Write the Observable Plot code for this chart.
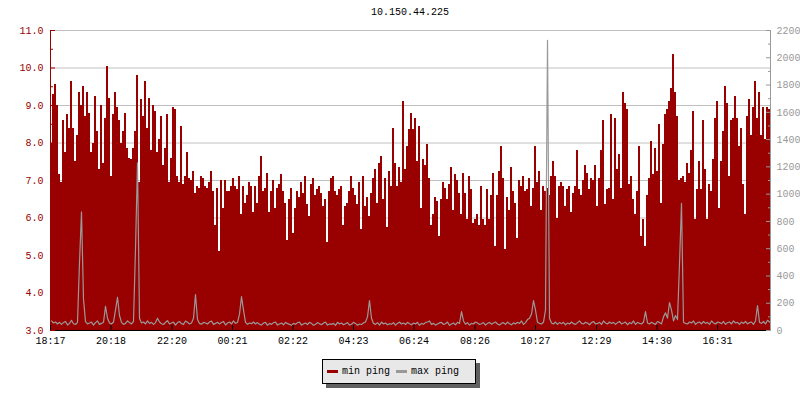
<!DOCTYPE html>
<html><head><meta charset="utf-8">
<script src="https://cdn.jsdelivr.net/npm/d3@7"></script>
<script src="https://cdn.jsdelivr.net/npm/@observablehq/plot@0.6"></script>
<style>
body{margin:0;background:#fff;}
#wrap{position:relative;width:800px;height:400px;font-family:"Liberation Mono",monospace;font-size:10px;color:#000;}
#chart{position:absolute;left:0;top:0;}
#title{position:absolute;left:0;width:820px;top:7px;line-height:12px;text-align:center;}
#legend{position:absolute;left:322px;top:359px;width:154px;height:25px;box-sizing:border-box;border:1px solid #000;background:#e8e8e8;box-shadow:4px 4px 0 #606060;display:flex;align-items:center;padding-left:4px;white-space:nowrap;}
.sw{display:inline-block;width:11px;height:3px;margin-right:4px;}
.lt{margin-right:6px;line-height:12px;}
</style></head>
<body>
<div id="wrap">
<div id="chart"></div>
<div id="title"></div>
<div id="legend"></div>
</div>
<script>
const chartTitle = "10.150.44.225";
const seriesNames = ["min ping", "max ping"];
const seriesColors = ["#990000", "#999999"];
const startLabel = "18:17";
const sampleMinutes = 4;
const spanMinutes = 1440;
const tickLabels = ["18:17","20:18","22:20","00:21","02:22","04:23","06:24","08:26","10:27","12:29","14:30","16:31"];
const leftTicks = [3,4,5,6,7,8,9,10,11];
const rightTicks = [0,200,400,600,800,1000,1200,1400,1600,1800,2000,2200];

const minPing = [
8.0,9.3,9.55,9.0,7.15,6.95,8.6,7.75,8.75,8.4,9.65,8.4,7.5,8.2,9.35,9.0,9.5,8.7,9.35,8.8,
7.75,8.0,9.25,8.3,7.3,9.0,7.45,8.65,10.05,9.2,7.1,8.75,9.35,8.95,8.6,8.0,8.3,8.8,7.85,7.6,
7.55,7.85,8.3,9.8,6.95,9.15,8.7,9.65,8.4,9.2,7.8,9.0,8.85,7.75,8.1,8.7,7.4,7.85,8.75,6.95,
7.6,8.95,8.9,7.1,6.95,8.45,6.9,7.1,7.75,7.05,7.0,7.25,6.65,6.85,6.8,7.1,7.05,6.85,6.8,6.95,
7.25,6.7,5.8,6.8,5.1,7.0,6.25,7.0,6.7,6.7,6.85,7.05,6.85,6.75,7.1,6.1,6.85,6.4,6.6,6.95,
6.85,6.15,6.85,6.4,7.1,7.65,6.7,6.8,7.2,6.15,6.7,7.0,6.25,6.8,6.9,7.15,6.7,6.4,5.4,6.5,
6.8,5.6,6.25,6.7,6.55,6.95,6.65,7.1,6.35,6.05,6.9,7.05,6.6,6.75,6.85,6.65,6.3,6.5,5.35,6.7,
7.05,7.1,6.7,6.6,6.75,6.85,5.8,6.3,6.4,6.7,7.1,6.8,6.6,6.35,6.95,5.7,7.1,6.3,6.55,6.05,
6.65,7.05,7.3,6.4,7.45,7.65,6.5,7.05,5.75,7.25,6.85,8.4,7.45,6.85,7.35,6.95,9.1,7.3,7.9,8.35,
8.8,8.35,8.65,7.5,8.45,6.25,7.55,7.4,7.95,7.05,5.8,6.1,6.55,6.45,5.5,6.5,6.95,6.8,6.5,6.9,
7.35,6.2,7.15,7.0,6.65,6.1,7.2,6.65,5.95,7.1,6.75,5.85,5.95,6.1,5.8,6.85,5.95,5.8,6.75,5.95,
6.6,7.2,5.25,6.6,7.25,7.9,7.05,5.15,6.55,6.2,7.35,6.7,6.4,5.45,7.0,6.85,7.1,6.7,6.75,7.05,
6.3,6.8,7.9,6.95,7.25,6.2,6.85,6.7,6.8,6.6,7.1,7.5,7.1,6.0,6.85,6.95,6.85,6.3,6.75,6.85,
6.15,6.65,6.85,7.8,6.75,6.6,7.0,7.4,7.2,6.75,7.05,7.0,7.4,6.3,7.05,7.8,8.6,6.35,6.75,6.8,
8.75,6.5,8.65,7.3,7.7,6.8,9.35,9.05,8.9,6.9,7.1,6.5,6.1,6.7,7.9,5.5,5.95,5.25,6.6,7.05,
8.05,7.15,7.85,7.25,8.5,6.4,7.95,8.75,8.9,9.1,9.45,10.35,9.35,8.7,7.0,7.05,7.1,6.95,7.45,7.2,
7.8,8.85,5.95,6.75,7.5,6.75,8.6,7.3,5.95,6.9,6.7,7.55,8.65,9.1,6.25,7.5,8.3,9.5,9.05,7.1,
8.6,8.65,9.25,8.65,7.9,8.4,6.9,6.1,8.7,9.15,8.2,8.95,9.65,8.65,9.35,8.2,8.95,8.1,8.95,8.9
];
const maxPing = [
70,55,62,48,60,45,58,66,40,52,75,50,44,60,500,870,230,65,48,55,
62,40,58,70,45,52,60,178,90,55,48,62,150,244,110,60,45,52,70,58,
48,66,600,1230,90,55,62,48,70,52,60,45,58,90,62,50,44,60,72,48,
55,62,40,58,66,50,45,70,60,48,55,90,264,80,52,46,60,55,48,62,
70,45,52,60,48,58,66,40,55,62,48,70,52,60,120,249,150,60,45,55,
50,62,48,58,45,40,55,60,38,52,45,58,62,40,48,55,42,60,50,45,
38,52,46,58,62,40,48,55,44,60,52,38,46,58,50,42,55,62,40,48,
45,52,38,60,48,55,42,50,58,40,46,60,52,38,48,44,56,62,100,220,
90,52,45,58,40,62,48,55,42,50,46,58,40,52,62,48,55,44,60,50,
42,55,48,60,38,52,46,58,62,70,45,52,40,48,56,60,44,50,62,38,
48,55,42,60,52,139,70,46,58,40,52,48,62,55,44,50,58,40,52,60,
46,55,62,48,40,52,58,45,62,50,42,56,48,60,52,70,45,58,80,90,
120,220,150,60,52,48,62,150,2127,90,55,48,62,45,58,50,60,42,55,48,
62,50,45,58,70,52,48,60,55,42,58,66,48,52,60,45,70,55,48,62,
52,60,45,58,66,48,55,62,42,58,50,70,45,60,52,48,62,139,55,48,
60,52,45,66,58,48,100,130,90,205,150,70,110,80,490,933,60,52,48,62,
55,70,45,58,62,48,66,52,60,45,70,55,48,62,58,50,66,45,58,62,
48,70,55,60,45,62,52,66,48,58,62,45,70,183,60,52,66,48,75,62
];

const MIN = 60000;
const [sh, sm] = startLabel.split(":").map(Number);
const start = new Date(2024, 0, 1, sh, sm);
const end = new Date(+start + spanMinutes * MIN);
const data = minPing.map((v, i) => ({
  t0: new Date(+start + i * sampleMinutes * MIN),
  t1: new Date(+start + (i + 1) * sampleMinutes * MIN),
  tm: new Date(+start + (i + 0.5) * sampleMinutes * MIN),
  min: v,
  max: maxPing[i]
}));
const labelMap = new Map();
const tickDates = tickLabels.map(s => {
  const [h, m] = s.split(":").map(Number);
  let d = new Date(2024, 0, 1, h, m);
  if (d < start) d = new Date(2024, 0, 2, h, m);
  labelMap.set(+d, s);
  return d;
});
const yMin = leftTicks[0], yMax = leftTicks[leftTicks.length - 1];
const rMax = rightTicks[rightTicks.length - 1];
const toLeft = v => yMin + v * (yMax - yMin) / rMax;
const fromLeft = y => Math.round((y - yMin) * rMax / (yMax - yMin));
const leftHalf = d3.pairs(leftTicks).map(([a, b]) => (a + b) / 2);
const rightHalf = d3.pairs(rightTicks).map(([a, b]) => (a + b) / 2);

const chart = Plot.plot({
  width: 800, height: 400,
  marginLeft: 50, marginRight: 30, marginTop: 30, marginBottom: 70,
  style: {fontFamily: "Liberation Mono, monospace", fontSize: "10px", background: "transparent"},
  x: {type: "time", domain: [start, end], label: null},
  y: {domain: [yMin, yMax], label: null},
  marks: [
    Plot.gridY(leftTicks.slice(1), {stroke: "#c0c0c0", strokeOpacity: 1}),
    Plot.rect(data, {x1: "t0", x2: "t1", y1: () => yMin, y2: "min", fill: seriesColors[0], shapeRendering: "crispEdges"}),
    Plot.line(data, {x: "tm", y: d => toLeft(d.max), stroke: seriesColors[1], strokeWidth: 1.2, curve: "linear"}),
    Plot.ruleX([start], {stroke: seriesColors[0]}),
    Plot.ruleX([end], {stroke: seriesColors[1]}),
    Plot.ruleY([yMin], {stroke: "#000"}),
    Plot.axisY(leftTicks, {anchor: "left", tickFormat: d => d.toFixed(1), color: seriesColors[0], tickSize: -5, tickPadding: 12, label: null}),
    Plot.axisY(leftHalf, {anchor: "left", tickFormat: () => "", color: seriesColors[0], tickSize: -3, label: null}),
    Plot.axisY(rightTicks.map(toLeft), {anchor: "right", tickFormat: d => String(fromLeft(d)), color: seriesColors[1], tickSize: -5, tickPadding: 11, label: null}),
    Plot.axisY(rightHalf.map(toLeft), {anchor: "right", tickFormat: () => "", color: seriesColors[1], tickSize: -3, label: null}),
    Plot.axisX(tickDates, {anchor: "bottom", tickFormat: d => labelMap.get(+d), color: "#000", tickSize: -5, tickPadding: 11, label: null})
  ]
});
document.getElementById("chart").appendChild(chart);
document.getElementById("title").textContent = chartTitle;
const lg = document.getElementById("legend");
seriesNames.forEach((n, i) => {
  const sw = document.createElement("span"); sw.className = "sw"; sw.style.background = seriesColors[i];
  const t = document.createElement("span"); t.className = "lt"; t.textContent = n;
  lg.appendChild(sw); lg.appendChild(t);
});
</script>
</body></html>
